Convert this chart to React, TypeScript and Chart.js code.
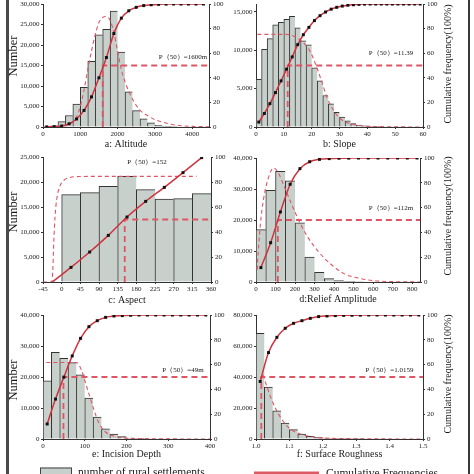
import React, { useEffect, useRef } from "react";
import { Chart, registerables } from "chart.js";

Chart.register(...registerables);

const SERIF = "'Liberation Serif', 'Times New Roman', serif";
const BAR_FILL = "#c8d0cc";
const BAR_EDGE = "#333333";
const CUM_RED = "#d0323e";
const DASH_RED = "#de5664";

// ---------- a: Altitude ----------
const A_BIN_X = [100, 300, 500, 700, 900, 1100, 1300, 1500, 1700, 1900, 2100, 2300, 2500, 2700, 2900, 3100, 3300, 3500];
const A_COUNT = [100, 300, 1300, 2800, 5600, 9700, 16000, 22500, 23800, 28300, 18300, 8600, 4000, 2000, 1000, 400, 150, 50];
const A_CUM_X = [100, 300, 500, 700, 900, 1100, 1300, 1500, 1700, 1900, 2100, 2300, 2500, 2700, 2900, 3100, 3300, 3500, 3700, 3900, 4100, 4300];
const A_CUM_Y = [0.1, 0.3, 0.8, 2.6, 6.5, 13.5, 24.5, 40, 56.5, 76, 88.5, 94.5, 97.3, 98.7, 99.4, 99.7, 99.9, 100, 100, 100, 100, 100];
const A_FIT_X = [0, 400, 600, 800, 900, 1000, 1100, 1200, 1300, 1400, 1500, 1600, 1700, 1800, 1900, 2000, 2100, 2200, 2400, 2600, 2800, 3000, 3200, 3500, 4000, 4450];
const A_FIT_Y = [0, 100, 400, 1200, 2500, 5000, 9000, 14000, 18500, 22500, 25500, 26700, 27000, 26000, 23000, 18500, 14000, 11000, 6800, 4100, 2800, 1800, 1200, 560, 150, 60];
const A_P50 = 1600;
const A_X_TICKS = [0, 1000, 2000, 3000, 4000];
const A_Y_TICKS = [0, 5000, 10000, 15000, 20000, 25000, 30000];

// ---------- b: Slope ----------
const B_BIN_X = [1, 3, 5, 7, 9, 11, 13, 15, 17, 19, 21, 23, 25, 27, 29, 31, 33, 35, 37, 39, 41, 43, 45];
const B_COUNT = [6200, 10100, 11500, 13300, 13600, 14000, 14400, 12900, 11200, 10700, 7700, 6000, 4100, 3000, 1900, 1300, 800, 450, 250, 150, 90, 50, 30];
const B_CUM_X = [1, 3, 5, 7, 9, 11, 13, 15, 17, 19, 21, 23, 25, 27, 29, 31, 33, 35, 37, 39, 41, 43, 45, 47, 49, 51, 53, 55, 57, 59];
const B_CUM_Y = [4, 11, 19, 28, 37.5, 47, 57, 67, 75, 81, 86.5, 90.5, 93.5, 95.8, 97.3, 98.3, 99, 99.4, 99.7, 99.9, 100, 100, 100, 100, 100, 100, 100, 100, 100, 100];
const B_FIT_X = [0.5, 11, 14, 16, 17.7, 19.5, 21.9, 23.7, 25.5, 27.9, 30.3, 33.9, 41, 60];
const B_FIT_Y = [12050, 12050, 11750, 11300, 10700, 9800, 7700, 5800, 3850, 2150, 1070, 430, 85, 0];
const B_P50 = 11.39;
const B_X_TICKS = [0, 10, 20, 30, 40, 50, 60];
const B_Y_TICKS = [0, 5000, 10000, 15000];

// ---------- c: Aspect ----------
const C_BIN_X = [22.5, 67.5, 112.5, 157.5, 202.5, 247.5, 292.5, 337.5];
const C_COUNT = [17470, 17870, 19130, 21130, 18470, 16600, 16670, 17670];
const C_CUM_X = [-22.5, 22.5, 67.5, 112.5, 157.5, 202.5, 247.5, 292.5, 337.5];
const C_CUM_Y = [0, 11.7, 24, 37.3, 52, 64.5, 75.7, 87.5, 99.5];
const C_FIT_X = [-45, -24, -21, -19, -16, -12, -5, 5, 20, 45, 90, 325];
const C_FIT_Y = [0, 0, 3000, 8000, 13000, 16500, 19000, 20300, 20900, 21100, 21130, 21130];
const C_P50 = 152;
const C_X_TICKS = [-45, 0, 45, 90, 135, 180, 225, 270, 315, 360];
const C_Y_TICKS = [0, 5000, 10000, 15000, 20000, 25000];

// ---------- d: Relief Amplitude ----------
const D_BIN_X = [25, 75, 125, 175, 225, 275, 325, 375, 425, 475, 525];
const D_COUNT = [16900, 29600, 35700, 32600, 19100, 8060, 3100, 1100, 430, 200, 100];
const D_CUM_X = [25, 75, 125, 175, 225, 275, 325, 375, 425, 475, 525, 575, 625, 675, 725, 775, 825];
const D_CUM_Y = [11.6, 31.7, 56.5, 78.8, 91.4, 97, 98.9, 99.5, 99.8, 99.9, 100, 100, 100, 100, 100, 100, 100];
const D_FIT_X = [6, 12, 22, 39, 65, 90, 116, 142, 185, 227, 270, 321, 381, 450, 535, 620, 840];
const D_FIT_Y = [4000, 10000, 18300, 26900, 33900, 36800, 35000, 31200, 24700, 18800, 14000, 9700, 5900, 2700, 1100, 320, 0];
const D_P50 = 112;
const D_X_TICKS = [0, 100, 200, 300, 400, 500, 600, 700, 800];
const D_Y_TICKS = [0, 10000, 20000, 30000, 40000];

// ---------- e: Incision Depth ----------
const E_BIN_X = [10, 30, 50, 70, 90, 110, 130, 150, 170, 190, 210, 230, 250];
const E_COUNT = [18770, 27990, 26060, 24660, 20700, 13190, 7080, 3320, 1610, 750, 320, 200, 100];
const E_CUM_X = [10, 30, 50, 70, 90, 110, 130, 150, 170, 190, 210, 230, 250, 270, 290, 310, 330, 350, 370, 390];
const E_CUM_Y = [12.1, 32.2, 49.9, 67, 81.2, 90.6, 95.4, 98.1, 99.2, 99.5, 99.8, 100, 100, 100, 100, 100, 100, 100, 100, 100];
const E_FIT_X = [8, 80, 92, 102, 112, 122, 134, 150, 172, 208, 400];
const E_FIT_Y = [24660, 24660, 22300, 18000, 13700, 9400, 5150, 2250, 860, 210, 0];
const E_P50 = 49;
const E_X_TICKS = [0, 100, 200, 300, 400];
const E_Y_TICKS = [0, 10000, 20000, 30000, 40000];

// ---------- f: Surface Roughness ----------
const F_BIN_X = [1.0125, 1.0375, 1.0625, 1.0875, 1.1125, 1.1375, 1.1625, 1.1875, 1.2125, 1.2375, 1.2625, 1.2875, 1.3125];
const F_COUNT = [68200, 33460, 18230, 10300, 6000, 3220, 1720, 1070, 640, 430, 210, 120, 60];
const F_CUM_X = [1.0125, 1.0375, 1.0625, 1.0875, 1.1125, 1.1375, 1.1625, 1.1875, 1.2125, 1.2375, 1.2625, 1.2875, 1.3125, 1.3375, 1.3625, 1.3875, 1.4125, 1.4375, 1.4625, 1.4875];
const F_CUM_Y = [46.4, 69.7, 82, 89.3, 93.3, 95.4, 97.3, 98.7, 99.2, 99.5, 99.7, 99.8, 99.9, 100, 100, 100, 100, 100, 100, 100];
const F_FIT_X = [1.021, 1.031, 1.043, 1.058, 1.078, 1.103, 1.133, 1.173, 1.223, 1.5];
const F_FIT_Y = [41400, 34960, 27450, 19950, 12440, 6430, 3220, 1290, 430, 0];
const F_P50 = 1.0159;
const F_X_TICKS = [1.0, 1.1, 1.2, 1.3, 1.4, 1.5];
const F_Y_TICKS = [0, 20000, 40000, 60000, 80000];

const CUM_TICKS = [0, 20, 40, 60, 80, 100];

type Item =
  | { kind: "text"; text: string; x: number; y: number; size: number; align?: CanvasTextAlign; baseline?: CanvasTextBaseline; rot?: number; color?: string }
  | { kind: "rect"; x: number; y: number; w: number; h: number; fill: string; stroke?: string };

type Spec = {
  L: number; R: number; T: number; B: number;
  xMin: number; xMax: number; yMax: number;
  binX: number[]; count: number[];
  cumX: number[]; cumY: number[]; hideFirstCum?: boolean;
  fitX: number[]; fitY: number[];
  p50: number;
  xTicks: number[]; yTicks: number[];
  xFmt: (v: number) => string;
  items: Item[];
};

const fmtThousands = (v: number) => (v === 0 ? "0" : v.toLocaleString("en-US"));
const fmtPlain = (v: number) => String(v);
const fmtOne = (v: number) => v.toFixed(1);

const LW = 40, RW = 30, BH = 20;
const ROT_UP = -Math.PI / 2;

function numberTitle(y: number): Item {
  return { kind: "text", text: "Number", x: 14, y, size: 12.5, rot: ROT_UP };
}
function cumTitle(y: number): Item {
  return { kind: "text", text: "Cumulative frequency(100%)", x: 448, y, size: 10, rot: ROT_UP };
}
function txt(text: string, x: number, y: number, size: number): Item {
  return { kind: "text", text, x, y, size };
}

const SPECS: Spec[] = [
  {
    L: 43, R: 209, T: 2, B: 127, xMin: 0, xMax: 4450, yMax: 30000,
    binX: A_BIN_X, count: A_COUNT, cumX: A_CUM_X, cumY: A_CUM_Y, fitX: A_FIT_X, fitY: A_FIT_Y,
    p50: A_P50, xTicks: A_X_TICKS, yTicks: A_Y_TICKS, xFmt: fmtPlain,
    items: [numberTitle(56), txt("a: Altitude", 126, 144.5, 10), txt("P（50）=1600m", 183, 57, 7)],
  },
  {
    L: 256, R: 423, T: 2, B: 127, xMin: 0, xMax: 60, yMax: 16000,
    binX: B_BIN_X, count: B_COUNT, cumX: B_CUM_X, cumY: B_CUM_Y, fitX: B_FIT_X, fitY: B_FIT_Y,
    p50: B_P50, xTicks: B_X_TICKS, yTicks: B_Y_TICKS, xFmt: fmtPlain,
    items: [cumTitle(64), txt("b: Slope", 339.5, 144.5, 10), txt("P（50）=11.39", 391, 53, 7)],
  },
  {
    L: 43, R: 211, T: 157, B: 282, xMin: -45, xMax: 360, yMax: 25000,
    binX: C_BIN_X, count: C_COUNT, cumX: C_CUM_X, cumY: C_CUM_Y, hideFirstCum: true, fitX: C_FIT_X, fitY: C_FIT_Y,
    p50: C_P50, xTicks: C_X_TICKS, yTicks: C_Y_TICKS, xFmt: fmtPlain,
    items: [numberTitle(212), txt("c: Aspect", 127, 300.5, 10), txt("P（50）=152", 147, 162, 7)],
  },
  {
    L: 256, R: 420, T: 158, B: 282, xMin: 0, xMax: 840, yMax: 40000,
    binX: D_BIN_X, count: D_COUNT, cumX: D_CUM_X, cumY: D_CUM_Y, fitX: D_FIT_X, fitY: D_FIT_Y,
    p50: D_P50, xTicks: D_X_TICKS, yTicks: D_Y_TICKS, xFmt: fmtPlain,
    items: [cumTitle(216), txt("d:Relief Amplitude", 338, 299.5, 10), txt("P（50）=112m", 391, 208, 7)],
  },
  {
    L: 43, R: 210, T: 315, B: 439, xMin: 0, xMax: 400, yMax: 40000,
    binX: E_BIN_X, count: E_COUNT, cumX: E_CUM_X, cumY: E_CUM_Y, fitX: E_FIT_X, fitY: E_FIT_Y,
    p50: E_P50, xTicks: E_X_TICKS, yTicks: E_Y_TICKS, xFmt: fmtPlain,
    items: [numberTitle(380), txt("e: Incision Depth", 126.5, 454.5, 10), txt("P（50）=49m", 183, 370, 7)],
  },
  {
    L: 256, R: 423, T: 315, B: 439, xMin: 1.0, xMax: 1.5, yMax: 80000,
    binX: F_BIN_X, count: F_COUNT, cumX: F_CUM_X, cumY: F_CUM_Y, fitX: F_FIT_X, fitY: F_FIT_Y,
    p50: F_P50, xTicks: F_X_TICKS, yTicks: F_Y_TICKS, xFmt: fmtOne,
    items: [
      cumTitle(374), txt("f: Surface Roughness", 339.5, 454.5, 10), txt("P（50）=1.0159", 389.5, 370, 7),
      { kind: "rect", x: 40, y: 467.5, w: 32, h: 12, fill: BAR_FILL, stroke: "#444" },
      { kind: "text", text: "number of rural settlements", x: 78, y: 475.5, size: 11.5, align: "left", baseline: "alphabetic" },
      { kind: "rect", x: 254, y: 471.5, w: 65, h: 6, fill: "#dc5a64" },
      { kind: "text", text: "Cumulative Frequencies", x: 326, y: 476.5, size: 11.5, align: "left", baseline: "alphabetic" },
    ],
  },
];

function drawItems(ctx: CanvasRenderingContext2D, items: Item[]) {
  for (const it of items) {
    ctx.save();
    if (it.kind === "rect") {
      ctx.fillStyle = it.fill;
      ctx.fillRect(it.x, it.y, it.w, it.h);
      if (it.stroke) {
        ctx.strokeStyle = it.stroke;
        ctx.lineWidth = 1;
        ctx.strokeRect(it.x + 0.5, it.y + 0.5, it.w - 1, it.h - 1);
      }
    } else {
      ctx.font = `${it.size}px ${SERIF}`;
      ctx.fillStyle = it.color || "#1a1a1a";
      ctx.textAlign = it.align || "center";
      ctx.textBaseline = it.baseline || "middle";
      ctx.translate(it.x, it.y);
      if (it.rot) ctx.rotate(it.rot);
      ctx.fillText(it.text, 0, 0);
    }
    ctx.restore();
  }
}

function fixBox(dim: "width" | "height", size: number) {
  return (s: any) => {
    s[dim] = size;
    s.paddingLeft = 0;
    s.paddingRight = 0;
    s.paddingTop = 0;
    s.paddingBottom = 0;
  };
}

function setTicks(values: number[]) {
  return (s: any) => {
    s.ticks = values.map((v) => ({ value: v }));
  };
}

function buildConfig(p: Spec, idx: number): any {
  const tickFont = { family: SERIF, size: 7 };
  const axisGrid = { display: true, drawOnChartArea: false, drawTicks: true, tickLength: 2, color: "#333", offset: false };
  const axisBorder = { display: true, color: "#333", width: 1 };
  return {
    type: "bar",
    data: {
      datasets: [
        {
          type: "line",
          label: "Cumulative Frequencies",
          data: p.cumX.map((x, i) => ({ x, y: p.cumY[i] })),
          yAxisID: "y1",
          borderColor: CUM_RED,
          borderWidth: 1.5,
          pointStyle: "rect",
          pointRadius: p.cumX.map((_, i) => (p.hideFirstCum && i === 0 ? 0 : 2.1)),
          pointBackgroundColor: "#111",
          pointBorderColor: "#111",
          pointBorderWidth: 0,
          cubicInterpolationMode: "monotone",
          order: 1,
        },
        {
          type: "line",
          label: "P50",
          data: [
            { x: p.p50, y: 0 },
            { x: p.p50, y: 50 },
            { x: p.xMax, y: 50 },
          ],
          yAxisID: "y1",
          borderColor: DASH_RED,
          borderWidth: 1.8,
          borderDash: [6, 4],
          pointRadius: 0,
          tension: 0,
          order: 2,
        },
        {
          type: "line",
          label: "fit",
          data: p.fitX.map((x, i) => ({ x, y: p.fitY[i] })),
          yAxisID: "y",
          borderColor: DASH_RED,
          borderWidth: 1.1,
          borderDash: [4, 3],
          pointRadius: 0,
          cubicInterpolationMode: "monotone",
          order: 3,
        },
        {
          type: "bar",
          label: "number of rural settlements",
          data: p.binX.map((x, i) => ({ x, y: p.count[i] })),
          yAxisID: "y",
          backgroundColor: BAR_FILL,
          borderColor: BAR_EDGE,
          borderWidth: { top: 1, left: 1, right: 0, bottom: 0 },
          borderSkipped: false,
          barPercentage: 1,
          categoryPercentage: 1,
          order: 4,
        },
      ],
    },
    options: {
      animation: false,
      responsive: false,
      maintainAspectRatio: false,
      events: [],
      layout: {
        padding: { left: p.L - LW, right: 474 - p.R - RW, top: p.T, bottom: 474 - p.B - BH },
      },
      plugins: { legend: { display: false }, tooltip: { enabled: false } },
      scales: {
        x: {
          type: "linear",
          position: "bottom",
          min: p.xMin,
          max: p.xMax,
          offset: false,
          afterBuildTicks: setTicks(p.xTicks),
          afterFit: fixBox("height", BH),
          ticks: { font: tickFont, color: "#1a1a1a", padding: 1, maxRotation: 0, autoSkip: false, callback: (v: number) => p.xFmt(v) },
          grid: axisGrid,
          border: axisBorder,
        },
        y: {
          type: "linear",
          position: "left",
          min: 0,
          max: p.yMax,
          afterBuildTicks: setTicks(p.yTicks),
          afterFit: fixBox("width", LW),
          ticks: { font: tickFont, color: "#1a1a1a", padding: 1.5, autoSkip: false, callback: (v: number) => fmtThousands(v) },
          grid: axisGrid,
          border: axisBorder,
        },
        y1: {
          type: "linear",
          position: "right",
          min: 0,
          max: 100,
          afterBuildTicks: setTicks(CUM_TICKS),
          afterFit: fixBox("width", RW),
          ticks: { font: tickFont, color: "#1a1a1a", padding: 2, autoSkip: false, callback: (v: number) => String(v) },
          grid: axisGrid,
          border: axisBorder,
        },
      },
    },
    plugins: [
      {
        id: "decor" + idx,
        afterDraw(chart: any) {
          drawItems(chart.ctx, p.items);
        },
      },
    ],
  };
}

function PanelChart({ spec, idx }: { spec: Spec; idx: number }) {
  const ref = useRef<HTMLCanvasElement>(null);
  useEffect(() => {
    if (!ref.current) return;
    const chart = new Chart(ref.current, buildConfig(spec, idx));
    return () => chart.destroy();
  }, [spec, idx]);
  return (
    <canvas
      ref={ref}
      width={474}
      height={474}
      style={{ position: "absolute", left: 0, top: 0, width: 474, height: 474 }}
    />
  );
}

export default function App() {
  return (
    <div
      style={{
        position: "fixed",
        left: 0,
        top: 0,
        width: 474,
        height: 474,
        background: "#ffffff",
        overflow: "hidden",
      }}
    >
      <div style={{ position: "absolute", left: 6, top: 0, width: 2.5, height: 474, background: "#4a4a4a" }} />
      <div style={{ position: "absolute", left: 468, top: 0, width: 2, height: 474, background: "#3a3a3a" }} />
      {SPECS.map((s, i) => (
        <PanelChart key={i} spec={s} idx={i} />
      ))}
    </div>
  );
}
